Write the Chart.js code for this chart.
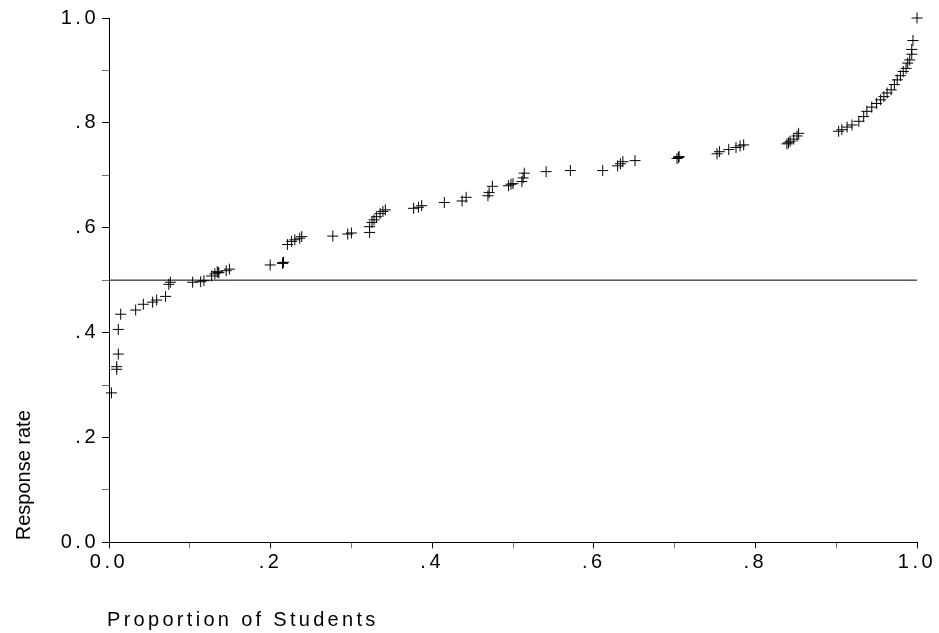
<!DOCTYPE html>
<html>
<head>
<meta charset="utf-8">
<script src="https://cdn.jsdelivr.net/npm/chart.js@4.4.1/dist/chart.umd.min.js"></script>
<style>
    html, body { margin: 0; padding: 0; background: #ffffff; }
    #contenedor { width: 939px; height: 633px; }
</style>
</head>
<body>
<div id="contenedor"><canvas id="grafico" width="939" height="633"></canvas></div>
<script>
// Valores (proporcion de estudiantes vs tasa de respuesta)
const proporcion = [
    0.003, 0.0095, 0.0095, 0.0115, 0.0115, 0.0145, 0.033, 0.0425, 0.054, 0.059,
    0.070, 0.074, 0.076, 0.1035, 0.1135, 0.1175, 0.127, 0.131, 0.134, 0.136,
    0.145, 0.149, 0.1995, 0.2147, 0.216, 0.221, 0.226, 0.230, 0.236, 0.2385,
    0.277, 0.2955, 0.300, 0.3225, 0.3225, 0.3255, 0.328, 0.331, 0.3355, 0.339,
    0.342, 0.377, 0.383, 0.387, 0.415, 0.437, 0.442, 0.469, 0.4705, 0.4745,
    0.4945, 0.4975, 0.500, 0.511, 0.5125, 0.514, 0.541, 0.571, 0.611, 0.6295,
    0.633, 0.636, 0.651, 0.703, 0.7055, 0.7525, 0.7555, 0.767, 0.776, 0.781,
    0.7855, 0.839, 0.843, 0.8475, 0.8515, 0.8535, 0.903, 0.907, 0.9135, 0.9195,
    0.928, 0.934, 0.938, 0.944, 0.950, 0.955, 0.959, 0.963, 0.968, 0.972,
    0.9755, 0.9795, 0.983, 0.9865, 0.9885, 0.991, 0.9935, 0.9935, 0.995, 1.0,
    0.135, 0.215, 0.705, 0.841
];
const tasaRespuesta = [
    0.285, 0.330, 0.335, 0.359, 0.406, 0.435, 0.443, 0.454, 0.458, 0.462,
    0.469, 0.492, 0.496, 0.496, 0.497, 0.499, 0.508, 0.512, 0.516, 0.514,
    0.518, 0.521, 0.529, 0.532, 0.534, 0.568, 0.574, 0.577, 0.580, 0.583,
    0.584, 0.588, 0.590, 0.591, 0.602, 0.610, 0.615, 0.621, 0.627, 0.631,
    0.634, 0.637, 0.639, 0.642, 0.648, 0.651, 0.658, 0.661, 0.667, 0.679,
    0.680, 0.683, 0.684, 0.688, 0.695, 0.704, 0.707, 0.709, 0.709, 0.718,
    0.722, 0.726, 0.728, 0.732, 0.736, 0.741, 0.745, 0.749, 0.753, 0.756,
    0.758, 0.760, 0.765, 0.769, 0.775, 0.780, 0.784, 0.787, 0.792, 0.796,
    0.803, 0.812, 0.822, 0.830, 0.837, 0.844, 0.850, 0.857, 0.863, 0.873,
    0.882, 0.890, 0.898, 0.904, 0.914, 0.920, 0.931, 0.940, 0.957, 1.0,
    0.515, 0.533, 0.734, 0.762
];
const lineaReferencia = 0.5;
const ticksX = ["0.0", ".2", ".4", ".6", ".8", "1.0"];
const ticksY = ["0.0", ".2", ".4", ".6", ".8", "1.0"];
const tituloX = "Proportion of Students";
const tituloY = "Response rate";

const FUENTE = '"Liberation Sans", Arial, sans-serif';

const puntos = proporcion.map((x, i) => ({ x: x, y: tasaRespuesta[i] }));

// marcas mayores negras, menores en gris
const colorMarca = (ctx) => (ctx.index % 2 === 0 ? "#000000" : "#707070");
const etiqueta = (lista) => (valor, indice) => (indice % 2 === 0 ? lista[indice / 2] : "");

// los textos del original van espaciados; los titulos se dibujan aqui
const espaciado = {
    id: "espaciado",
    beforeDraw(chart) {
        chart.ctx.letterSpacing = "3.5px";
    },
    afterDraw(chart) {
        const ctx = chart.ctx;
        ctx.save();
        ctx.fillStyle = "#000000";
        ctx.textAlign = "left";
        ctx.textBaseline = "alphabetic";
        ctx.letterSpacing = "3.3px";
        ctx.font = "20px " + FUENTE;
        ctx.fillText(tituloX, chart.chartArea.left - 2, 626);

        ctx.letterSpacing = "0px";
        ctx.font = "20px " + FUENTE;
        ctx.translate(29.5, chart.chartArea.bottom - 2);
        ctx.rotate(-Math.PI / 2);
        ctx.fillText(tituloY, 0, 0);
        ctx.restore();
        ctx.letterSpacing = "0px";
    }
};

new Chart(document.getElementById("grafico").getContext("2d"), {
    data: {
        datasets: [
            {
                type: "line",
                data: [{ x: 0, y: lineaReferencia }, { x: 1, y: lineaReferencia }],
                borderColor: "#000000",
                borderWidth: 1,
                pointRadius: 0,
                fill: false
            },
            {
                type: "scatter",
                data: puntos,
                pointStyle: "cross",
                pointRadius: 5.5,
                pointHoverRadius: 5.5,
                borderColor: "#000000",
                backgroundColor: "#000000",
                borderWidth: 1,
                clip: false
            }
        ]
    },
    options: {
        responsive: false,
        animation: false,
        devicePixelRatio: 1,
        events: [],
        layout: { padding: { left: 0, top: 18, right: 22, bottom: 0 } },
        plugins: {
            legend: { display: false },
            tooltip: { enabled: false }
        },
        scales: {
            x: {
                type: "linear",
                min: 0,
                max: 1,
                afterFit(scale) { scale.height = 90.7; },
                border: { display: true, color: "#000000", width: 1 },
                grid: {
                    drawOnChartArea: false,
                    drawTicks: true,
                    tickLength: 6,
                    color: colorMarca
                },
                ticks: {
                    stepSize: 0.1,
                    autoSkip: false,
                    maxRotation: 0,
                    padding: 2,
                    color: "#000000",
                    font: { family: FUENTE, size: 20 },
                    callback: etiqueta(ticksX)
                }
            },
            y: {
                type: "linear",
                min: 0,
                max: 1,
                afterFit(scale) { scale.width = 109; },
                border: { display: true, color: "#000000", width: 1 },
                grid: {
                    drawOnChartArea: false,
                    drawTicks: true,
                    tickLength: 7,
                    color: colorMarca
                },
                ticks: {
                    stepSize: 0.1,
                    autoSkip: false,
                    padding: 3,
                    color: "#000000",
                    font: { family: FUENTE, size: 20 },
                    callback: etiqueta(ticksY)
                }
            }
        }
    },
    plugins: [espaciado]
});
</script>
</body>
</html>
